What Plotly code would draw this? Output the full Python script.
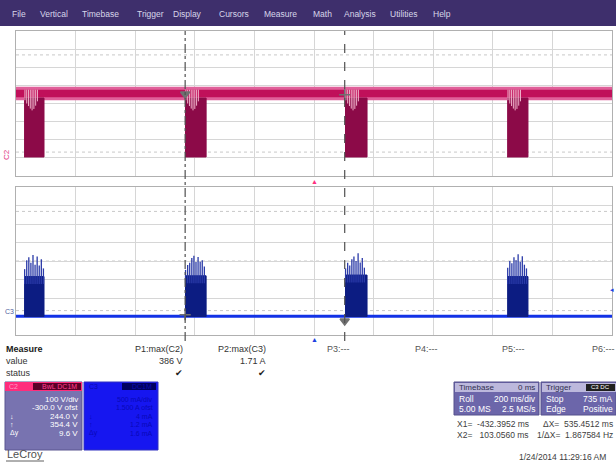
import plotly.graph_objects as go

W, H = 616, 464

# --- scope settings -------------------------------------------------------
t_range = [-1000, 1000]        # ms, 200 ms/div x 10 div
c2_range = [-100, 700]         # V, 100 V/div, -300 V ofst, 8 div
c3_range = [-0.5, 3.5]         # A, 500 mA/div, -1.5 A ofst, 8 div

cursor_x1 = -432.3952
cursor_x2 = 103.0560

menu_items = ["File", "Vertical", "Timebase", "Trigger", "Display", "Cursors",
              "Measure", "Math", "Analysis", "Utilities", "Help"]
menu_x = [10, 38, 80, 135, 171, 217, 262, 311, 342, 388, 431]

# --- waveform data ---------------------------------
burst_start_ms = [-973, -433, 104, 648]
burst_end_ms = [-906, -362, 178, 718]

# C2 (voltage)
c2_noise_lo, c2_noise_hi = 318, 392
c2_core_lo, c2_core_hi = 334, 376
c2_burst_lo, c2_burst_hi = 5, 330
c2_stripe_off = [3, 9, 15, 21, 27, 33, 39, 45]       # ms from burst start
c2_stripe_bot = [318, 300, 286, 272, 262, 270, 288, 312]  # V

# C3 (current)
c3_noise_lo, c3_noise_hi = -0.035, 0.045
c3_burst_top = [1.08, 1.10, 1.12, 1.08]
c3_spike_off = [2, 9, 16, 23, 30, 37, 44, 51, 58, 65]
c3_spike_peak = [
    [1.28, 1.52, 1.60, 1.45, 1.66, 1.40, 1.62, 1.38, 1.55, 1.30],
    [1.26, 1.39, 1.45, 1.58, 1.64, 1.47, 1.61, 1.48, 1.52, 1.35],
    [1.30, 1.45, 1.38, 1.55, 1.62, 1.50, 1.71, 1.46, 1.58, 1.32],
    [1.32, 1.50, 1.44, 1.60, 1.52, 1.68, 1.48, 1.63, 1.40, 1.30],
]

# measurement panel
meas_names = ["P1:max(C2)", "P2:max(C3)", "P3:---", "P4:---", "P5:---", "P6:---"]
meas_values = ["386 V", "1.71 A", "", "", "", ""]
meas_x = [185, 268, 325, 413, 500, 590]

c2_box_lines = ["100 V/div", "-300.0 V ofst", "244.0 V", "354.4 V", "9.6 V"]
c3_box_lines = ["500 mA/div", "1.500 A ofst", "4 mA", "1.2 mA", "1.6 mA"]
box_syms = ["", "", "↓", "↑", "Δy"]


def px(x):
    return x / W


def py(y):
    return 1 - y / H


fig = go.Figure()

# ---- C2 trace (top grid) ----
xa = [t_range[0], t_range[1], t_range[1], t_range[0]]
fig.add_trace(go.Scatter(x=xa, y=[c2_noise_lo, c2_noise_lo, c2_noise_hi, c2_noise_hi],
                         fill="toself", fillcolor="#e0609a", mode="lines",
                         line=dict(width=0), xaxis="x", yaxis="y", hoverinfo="skip"))
fig.add_trace(go.Scatter(x=xa, y=[c2_core_lo, c2_core_lo, c2_core_hi, c2_core_hi],
                         fill="toself", fillcolor="#c0105a", mode="lines",
                         line=dict(width=0), xaxis="x", yaxis="y", hoverinfo="skip"))
bx, by = [], []
for s, e in zip(burst_start_ms, burst_end_ms):
    bx += [s, e, e, s, None]
    by += [c2_burst_lo, c2_burst_lo, c2_burst_hi, c2_burst_hi, None]
fig.add_trace(go.Scatter(x=bx, y=by, fill="toself", fillcolor="#8c0a48", mode="lines",
                         line=dict(width=1, color="#8c0a48"),
                         xaxis="x", yaxis="y", hoverinfo="skip"))
sx, sy = [], []
for s in burst_start_ms:
    for o, b in zip(c2_stripe_off, c2_stripe_bot):
        sx += [s + o, s + o, None]
        sy += [c2_core_hi, b, None]
fig.add_trace(go.Scatter(x=sx, y=sy, mode="lines", line=dict(width=1, color="#eeb0c8"),
                         xaxis="x", yaxis="y", hoverinfo="skip"))

# ---- C3 trace (bottom grid) ----
fig.add_trace(go.Scatter(x=xa, y=[c3_noise_lo, c3_noise_lo, c3_noise_hi, c3_noise_hi],
                         fill="toself", fillcolor="#1232e6", mode="lines",
                         line=dict(width=0), xaxis="x2", yaxis="y2", hoverinfo="skip"))
bx, by = [], []
for s, e, top in zip(burst_start_ms, burst_end_ms, c3_burst_top):
    bx += [s, e, e, s, None]
    by += [0, 0, top, top, None]
fig.add_trace(go.Scatter(x=bx, y=by, fill="toself", fillcolor="#0c1c82", mode="lines",
                         line=dict(width=1, color="#0c1c82"),
                         xaxis="x2", yaxis="y2", hoverinfo="skip"))
kx, ky = [], []
for s, top, peaks in zip(burst_start_ms, c3_burst_top, c3_spike_peak):
    for o, p in zip(c3_spike_off, peaks):
        kx += [s + o, s + o, None]
        ky += [top - 0.2, p, None]
fig.add_trace(go.Scatter(x=kx, y=ky, mode="lines", line=dict(width=1.3, color="#2a3aa8"),
                         xaxis="x2", yaxis="y2", hoverinfo="skip"))

# cursor markers on the traces
fig.add_trace(go.Scatter(x=[cursor_x1, cursor_x2], y=[352, 348], mode="markers",
                         marker=dict(symbol=["triangle-down", "cross-thin"], size=8,
                                     color="#707070", line=dict(width=1.5, color="#707070")),
                         xaxis="x", yaxis="y", hoverinfo="skip"))
fig.add_trace(go.Scatter(x=[cursor_x1, cursor_x2], y=[0.05, -0.12], mode="markers",
                         marker=dict(symbol=["cross-thin", "triangle-down"], size=8,
                                     color="#707070", line=dict(width=1.5, color="#707070")),
                         xaxis="x2", yaxis="y2", hoverinfo="skip"))

axis_common = dict(showgrid=True, gridcolor="#d6d6d6", gridwidth=1, zeroline=False,
                   showticklabels=False, ticks="", showline=True, linecolor="#b0b0b0",
                   mirror=True, fixedrange=True)

top_dom = [py(176), py(31)]
bot_dom = [py(335), py(187)]
xdom = [px(16), px(612)]

shapes = []
# menu bar
shapes.append(dict(type="rect", xref="paper", yref="paper", x0=0, x1=1, y0=py(26), y1=1,
                   fillcolor="#3e2f6c", line=dict(width=0), layer="below"))
# dotted division lines
for yv, ax in [(568, "y"), (300, "y"), (32, "y"), (2.84, "y2"), (1.5, "y2"), (0.16, "y2")]:
    shapes.append(dict(type="line", xref="x" if ax == "y" else "x2", yref=ax,
                       x0=t_range[0], x1=t_range[1], y0=yv, y1=yv,
                       line=dict(color="#c8c8c8", width=1, dash="dot"), layer="below"))
# cursors
shapes.append(dict(type="line", xref="x", yref="paper", x0=cursor_x1, x1=cursor_x1,
                   y0=py(341), y1=py(31), line=dict(color="#505050", width=1.2, dash="dashdot")))
shapes.append(dict(type="line", xref="x", yref="paper", x0=cursor_x2, x1=cursor_x2,
                   y0=py(341), y1=py(31), line=dict(color="#505050", width=1.2, dash="dash")))
# channel boxes
shapes.append(dict(type="rect", xref="paper", yref="paper", x0=px(5), x1=px(82),
                   y0=py(450), y1=py(382), fillcolor="#7873b0", line=dict(color="#5a5690", width=1)))
shapes.append(dict(type="rect", xref="paper", yref="paper", x0=px(5), x1=px(82),
                   y0=py(391), y1=py(382), fillcolor="#ff2d7c", line=dict(width=0)))
shapes.append(dict(type="rect", xref="paper", yref="paper", x0=px(33), x1=px(81),
                   y0=py(390), y1=py(383), fillcolor="#5a0028", line=dict(width=0)))
shapes.append(dict(type="rect", xref="paper", yref="paper", x0=px(84), x1=px(158),
                   y0=py(450), y1=py(382), fillcolor="#1616f0", line=dict(color="#3030c0", width=1)))
shapes.append(dict(type="rect", xref="paper", yref="paper", x0=px(122), x1=px(156),
                   y0=py(390), y1=py(383), fillcolor="#000060", line=dict(width=0)))
# timebase / trigger boxes
shapes.append(dict(type="rect", xref="paper", yref="paper", x0=px(454), x1=px(539),
                   y0=py(415), y1=py(382), fillcolor="#6c66aa", line=dict(color="#55508c", width=1)))
shapes.append(dict(type="rect", xref="paper", yref="paper", x0=px(455), x1=px(538),
                   y0=py(392), y1=py(383), fillcolor="#bcb8dc", line=dict(width=0)))
shapes.append(dict(type="rect", xref="paper", yref="paper", x0=px(541), x1=px(616),
                   y0=py(415), y1=py(382), fillcolor="#6c66aa", line=dict(color="#55508c", width=1)))
shapes.append(dict(type="rect", xref="paper", yref="paper", x0=px(542), x1=px(616),
                   y0=py(392), y1=py(383), fillcolor="#bcb8dc", line=dict(width=0)))
shapes.append(dict(type="rect", xref="paper", yref="paper", x0=px(586), x1=px(615),
                   y0=py(391), y1=py(384), fillcolor="#202020", line=dict(width=0)))
# LeCroy underline
shapes.append(dict(type="line", xref="paper", yref="paper", x0=px(6), x1=px(44),
                   y0=py(461), y1=py(461), line=dict(color="#606060", width=1)))

ann = []
F = "Liberation Sans"


def text(x, y, s, size=9, color="#333333", xa="left", bold=False, **kw):
    ann.append(dict(x=px(x), y=py(y), xref="paper", yref="paper", text=f"<b>{s}</b>" if bold else s,
                    showarrow=False, xanchor=xa, yanchor="middle",
                    font=dict(family=F, size=size, color=color), **kw))


for name, x in zip(menu_items, menu_x):
    text(x, 14, name, size=8.5, color="#d8d6ea")

# channel labels and markers
text(6, 155, "C2", size=8, color="#e0307a", xa="center", textangle=-90)
text(9, 311, "C3", size=7, color="#5060a0", xa="center")
text(314, 182, "▲", size=7, color="#ff3080", xa="center")
text(314, 339, "▲", size=7, color="#2040e0", xa="center")
text(612, 289, "◂", size=7, color="#2040e0", xa="center")

# measure table
text(4, 349, "Measure", size=9, color="#202020", bold=True)
text(4, 361, "value", size=9)
text(4, 373, "status", size=9)
for i, (n, v, x) in enumerate(zip(meas_names, meas_values, meas_x)):
    if i < 2:
        text(x, 349, n, size=9, xa="right")
        text(x, 361, v, size=9, xa="right")
        text(x - 6, 373, "✔", size=9, color="#222222", xa="center")
    else:
        text(x, 349, n, size=9, color="#555555")

# C2 box
text(7, 386, "C2", size=7, color="#ff9cc4")
text(79, 386, "BwL DC1M", size=7, color="#ff4090", xa="right")
for i, (line, sym) in enumerate(zip(c2_box_lines, box_syms)):
    yy = 399 + i * 8.5
    text(80, yy, line, size=8, color="#ffffff", xa="right")
    if sym:
        text(8, yy, sym, size=7, color="#ffffff")
# C3 box
text(87, 386, "C3", size=7, color="#0a0ab0")
text(154, 386, "DC1M", size=7, color="#0a0ab0", xa="right")
for i, (line, sym) in enumerate(zip(c3_box_lines, box_syms)):
    yy = 399 + i * 8.5
    text(155, yy, line, size=7, color="#0808b8", xa="right")
    if sym:
        text(87, yy, sym, size=7, color="#0808b8")
text(5, 454, "LeCroy", size=11, color="#505050")

# timebase / trigger
text(457, 387, "Timebase", size=8, color="#303050")
text(537, 387, "0 ms", size=8, color="#303050", xa="right")
text(457, 399, "Roll", size=8.5, color="#ffffff")
text(538, 399, "200 ms/div", size=8.5, color="#ffffff", xa="right")
text(457, 409, "5.00 MS", size=8.5, color="#ffffff")
text(538, 409, "2.5 MS/s", size=8.5, color="#ffffff", xa="right")
text(544, 387, "Trigger", size=8, color="#303050")
text(600, 387, "C3 DC", size=6, color="#ffffff", xa="center")
text(544, 399, "Stop", size=8.5, color="#ffffff")
text(615, 399, "735 mA", size=8.5, color="#ffffff", xa="right")
text(544, 409, "Edge", size=8.5, color="#ffffff")
text(615, 409, "Positive", size=8.5, color="#ffffff", xa="right")
text(455, 424, "X1=  -432.3952 ms", size=8.5, color="#404040")
text(615, 424, "ΔX=  535.4512 ms", size=8.5, color="#404040", xa="right")
text(455, 435, "X2=   103.0560 ms", size=8.5, color="#404040")
text(615, 435, "1/ΔX=  1.867584 Hz", size=8.5, color="#404040", xa="right")
text(608, 457, "1/24/2014 11:29:16 AM", size=8.5, color="#404040", xa="right")

fig.update_layout(
    width=W, height=H, margin=dict(l=0, r=0, t=0, b=0),
    paper_bgcolor="#ffffff", plot_bgcolor="#ffffff", showlegend=False,
    xaxis=dict(domain=xdom, anchor="y", range=t_range, dtick=200, **axis_common),
    yaxis=dict(domain=top_dom, anchor="x", range=c2_range, dtick=100, **axis_common),
    xaxis2=dict(domain=xdom, anchor="y2", range=t_range, dtick=200, **axis_common),
    yaxis2=dict(domain=bot_dom, anchor="x2", range=c3_range, dtick=0.5, **axis_common),
    shapes=shapes, annotations=ann,
)
fig.write_html("out.html", config={"displayModeBar": False},
               post_script="document.body.style.margin='0';document.body.style.overflow='hidden';")
